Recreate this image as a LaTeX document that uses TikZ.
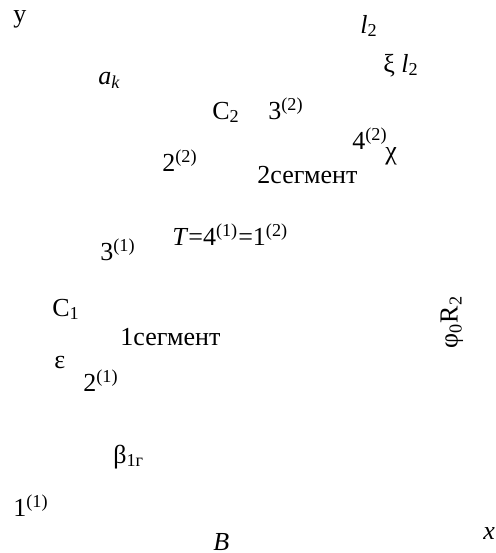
\documentclass[tikz,border=0pt]{standalone}
\usepackage{fontspec}
\setmainfont{Liberation Serif}
\usepackage{tikz}
\usetikzlibrary{positioning}

\begin{document}
\begin{tikzpicture}[x=0.5pt,y=-0.5pt,
  lbl/.style={inner sep=0pt,anchor=base west,font=\fontsize{13}{15}\selectfont}]
  \useasboundingbox (0,0) rectangle (496,553);
  \node[lbl] (ay) at (13,22) {y};
  \node[lbl] (ak) at (98,84) {\textit{a}\textsubscript{\textit{k}}};
  \node[lbl] (c2) at (212,119) {C\textsubscript{2}};
  \node[lbl] (p22) at (162,171) {2\textsuperscript{(2)}};
  \node[lbl] (l2) at (360,33) {\textit{l}\textsubscript{2}};
  \node[lbl] (xil) at (383,72) {ξ \textit{l}\textsubscript{2}};
  \node[lbl] (p32) at (268,119) {3\textsuperscript{(2)}};
  \node[lbl] (p42) at (352,149) {4\textsuperscript{(2)}};
  \node[lbl] (chi) at (385,159) {χ};
  \node[lbl] (sg2) at (257,183) {2сегмент};
  \node[lbl] (p31) at (100,260) {3\textsuperscript{(1)}};
  \node[lbl] (tp) at (172,245) {\textit{T}=4\textsuperscript{(1)}=1\textsuperscript{(2)}};
  \node[lbl] (c1) at (52,316) {C\textsubscript{1}};
  \node[lbl] (sg1) at (120,345) {1сегмент};
  \node[lbl] (eps) at (54,368) {ε};
  \node[lbl] (p21) at (83,391) {2\textsuperscript{(1)}};
  \node[lbl] (bet) at (113,463) {β\textsubscript{1г}};
  \node[lbl] (p11) at (13,516) {1\textsuperscript{(1)}};
  \node[lbl] (bb) at (213,550) {\textit{B}};
  \node[lbl] (ax) at (483,539) {\textit{x}};
  \node[lbl,anchor=center,rotate=90] (phr) at (452,322) {φ\textsubscript{0}R\textsubscript{2}};
\end{tikzpicture}
\end{document}
